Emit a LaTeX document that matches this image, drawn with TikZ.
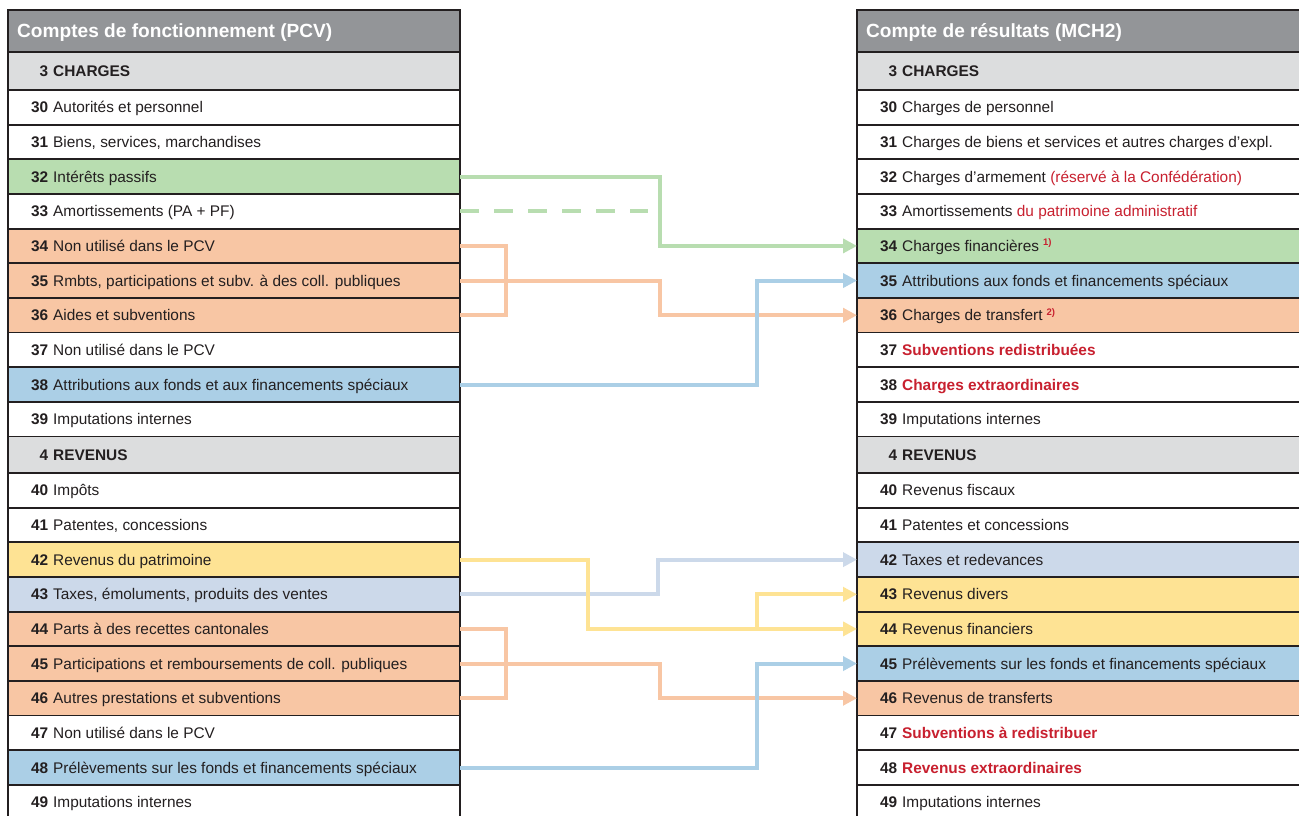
\documentclass[tikz,border=0pt]{standalone}
\usepackage{fontspec}
\setmainfont{Liberation Sans}
\usetikzlibrary{arrows.meta}
\definecolor{frame}{HTML}{231F20}
\definecolor{hdr}{HTML}{939598}
\definecolor{grp}{HTML}{DCDDDE}
\definecolor{cgreen}{HTML}{B8DDB0}
\definecolor{corange}{HTML}{F8C6A4}
\definecolor{cblue}{HTML}{ABCFE6}
\definecolor{clblue}{HTML}{CCD9EA}
\definecolor{cyellow}{HTML}{FEE394}
\definecolor{cred}{HTML}{C8202F}
\definecolor{txt}{HTML}{231F20}
\newcommand{\tabrow}[6]{%
  \node[rowbox, fill=#4] (#1) at (#2,#3) {};
  \node[lbl] (#1t) at ([xshift=19pt,yshift=-5.5pt]#1.west) {\makebox[21pt][r]{\bfseries #5}\hspace{5pt}#6};
}
\newcommand{\grprow}[6]{%
  \node[rowbox, fill=grp, minimum height=#4] (#1) at (#2,#3) {};
  \node[lbl] (#1t) at ([xshift=19pt,yshift=-5.5pt]#1.west) {\bfseries\makebox[21pt][r]{#5}\hspace{5pt}#6};
}
\newcommand{\hdrrow}[4]{%
  \node[rowbox, fill=hdr, minimum height=42pt] (#1) at (#2,#3) {};
  \node[hlbl] (#1t) at ([xshift=9pt,yshift=-6.8pt]#1.west) {#4};
}
\newcommand{\redt}[1]{\textcolor{cred}{#1}}
\newcommand{\redb}[1]{\textcolor{cred}{\bfseries #1}}
\newcommand{\fn}[1]{\hspace{4pt}\raisebox{5.5pt}{\textcolor{cred}{\fontsize{9.5}{10}\selectfont\bfseries #1}}}
\begin{document}
\begin{tikzpicture}[x=1pt,y=-1pt,
  rowbox/.style={draw=frame, line width=1.8pt, minimum width=452pt, minimum height=34.65pt, anchor=north west, inner sep=0pt, outer sep=0pt},
  lbl/.style={anchor=base west, inner sep=0pt, font=\fontsize{15.4}{18}\selectfont, text=txt},
  hlbl/.style={anchor=base west, inner sep=0pt, font=\fontsize{19.1}{22}\selectfont\bfseries, text=white},
  link/.style={line width=4pt},
  conn/.style={line width=4pt, -{Triangle[length=14pt,width=14pt]}}
]
\useasboundingbox (0,0) rectangle (1299,816);
\clip (0,0) rectangle (1299,816);
\fill[white] (0,0) rectangle (1299,816);
% ---------- left table ----------
\hdrrow{LH}{8}{10}{Comptes de fonctionnement (PCV)}
\grprow{L3}{8}{52}{38pt}{3}{CHARGES}
\tabrow{L30}{8}{90}{white}{30}{Autorités et personnel}
\tabrow{L31}{8}{124.65}{white}{31}{Biens, services, marchandises}
\tabrow{L32}{8}{159.3}{cgreen}{32}{Intérêts passifs}
\tabrow{L33}{8}{193.95}{white}{33}{Amortissements (PA + PF)}
\tabrow{L34}{8}{228.6}{corange}{34}{Non utilisé dans le PCV}
\tabrow{L35}{8}{263.25}{corange}{35}{Rmbts, participations et subv. à des coll. publiques}
\tabrow{L36}{8}{297.9}{corange}{36}{Aides et subventions}
\tabrow{L37}{8}{332.55}{white}{37}{Non utilisé dans le PCV}
\tabrow{L38}{8}{367.2}{cblue}{38}{Attributions aux fonds et aux financements spéciaux}
\tabrow{L39}{8}{401.85}{white}{39}{Imputations internes}
\grprow{L4}{8}{436.5}{36.5pt}{4}{REVENUS}
\tabrow{L40}{8}{473}{white}{40}{Impôts}
\tabrow{L41}{8}{507.65}{white}{41}{Patentes, concessions}
\tabrow{L42}{8}{542.3}{cyellow}{42}{Revenus du patrimoine}
\tabrow{L43}{8}{576.95}{clblue}{43}{Taxes, émoluments, produits des ventes}
\tabrow{L44}{8}{611.6}{corange}{44}{Parts à des recettes cantonales}
\tabrow{L45}{8}{646.25}{corange}{45}{Participations et remboursements de coll. publiques}
\tabrow{L46}{8}{680.9}{corange}{46}{Autres prestations et subventions}
\tabrow{L47}{8}{715.55}{white}{47}{Non utilisé dans le PCV}
\tabrow{L48}{8}{750.2}{cblue}{48}{Prélèvements sur les fonds et financements spéciaux}
\tabrow{L49}{8}{784.85}{white}{49}{Imputations internes}
% ---------- right table ----------
\hdrrow{RH}{857}{10}{Compte de résultats (MCH2)}
\grprow{R3}{857}{52}{38pt}{3}{CHARGES}
\tabrow{R30}{857}{90}{white}{30}{Charges de personnel}
\tabrow{R31}{857}{124.65}{white}{31}{Charges de biens et services et autres charges d’expl.}
\tabrow{R32}{857}{159.3}{white}{32}{Charges d'armement \redt{(réservé à la Confédération)}}
\tabrow{R33}{857}{193.95}{white}{33}{Amortissements \redt{du patrimoine administratif}}
\tabrow{R34}{857}{228.6}{cgreen}{34}{Charges financières\fn{1)}}
\tabrow{R35}{857}{263.25}{cblue}{35}{Attributions aux fonds et financements spéciaux}
\tabrow{R36}{857}{297.9}{corange}{36}{Charges de transfert\fn{2)}}
\tabrow{R37}{857}{332.55}{white}{37}{\redb{Subventions redistribuées}}
\tabrow{R38}{857}{367.2}{white}{38}{\redb{Charges extraordinaires}}
\tabrow{R39}{857}{401.85}{white}{39}{Imputations internes}
\grprow{R4}{857}{436.5}{36.5pt}{4}{REVENUS}
\tabrow{R40}{857}{473}{white}{40}{Revenus fiscaux}
\tabrow{R41}{857}{507.65}{white}{41}{Patentes et concessions}
\tabrow{R42}{857}{542.3}{clblue}{42}{Taxes et redevances}
\tabrow{R43}{857}{576.95}{cyellow}{43}{Revenus divers}
\tabrow{R44}{857}{611.6}{cyellow}{44}{Revenus financiers}
\tabrow{R45}{857}{646.25}{cblue}{45}{Prélèvements sur les fonds et financements spéciaux}
\tabrow{R46}{857}{680.9}{corange}{46}{Revenus de transferts}
\tabrow{R47}{857}{715.55}{white}{47}{\redb{Subventions à redistribuer}}
\tabrow{R48}{857}{750.2}{white}{48}{\redb{Revenus extraordinaires}}
\tabrow{R49}{857}{784.85}{white}{49}{Imputations internes}
% ---------- routing columns ----------
\coordinate (xbr) at (506,0);
\coordinate (xmid) at (660,0);
\coordinate (xdash) at (648,0);
\coordinate (xblue) at (757,0);
\coordinate (xyel) at (588,0);
\coordinate (xlb) at (658,0);
\coordinate (dashend) at (L33.east -| xdash);
% ---------- charges connectors ----------
\draw[conn, color=cgreen] (L32.east) -- (L32.east -| xmid) -- (R34.west -| xmid) -- (R34.west);
\draw[link, draw=cgreen, dash pattern=on 19pt off 15pt] (L33.east) -- (dashend);
\draw[link, draw=corange] (L34.east) -- (L34.east -| xbr) -- (L36.east -| xbr) -- (L36.east);
\draw[conn, color=corange] (L35.east) -- (L35.east -| xmid) -- (R36.west -| xmid) -- (R36.west);
\draw[conn, color=cblue] (L38.east) -- (L38.east -| xblue) -- (R35.west -| xblue) -- (R35.west);
% ---------- revenus connectors ----------
\draw[conn, color=clblue] (L43.east) -- (L43.east -| xlb) -- (R42.west -| xlb) -- (R42.west);
\draw[conn, color=cyellow] (L42.east) -- (L42.east -| xyel) -- (R44.west -| xyel) -- (R44.west);
\draw[conn, color=cyellow] (R44.west -| xblue) -- (R43.west -| xblue) -- (R43.west);
\draw[link, draw=corange] (L44.east) -- (L44.east -| xbr) -- (L46.east -| xbr) -- (L46.east);
\draw[conn, color=corange] (L45.east) -- (L45.east -| xmid) -- (R46.west -| xmid) -- (R46.west);
\draw[conn, color=cblue] (L48.east) -- (L48.east -| xblue) -- (R45.west -| xblue) -- (R45.west);
\end{tikzpicture}
\end{document}
